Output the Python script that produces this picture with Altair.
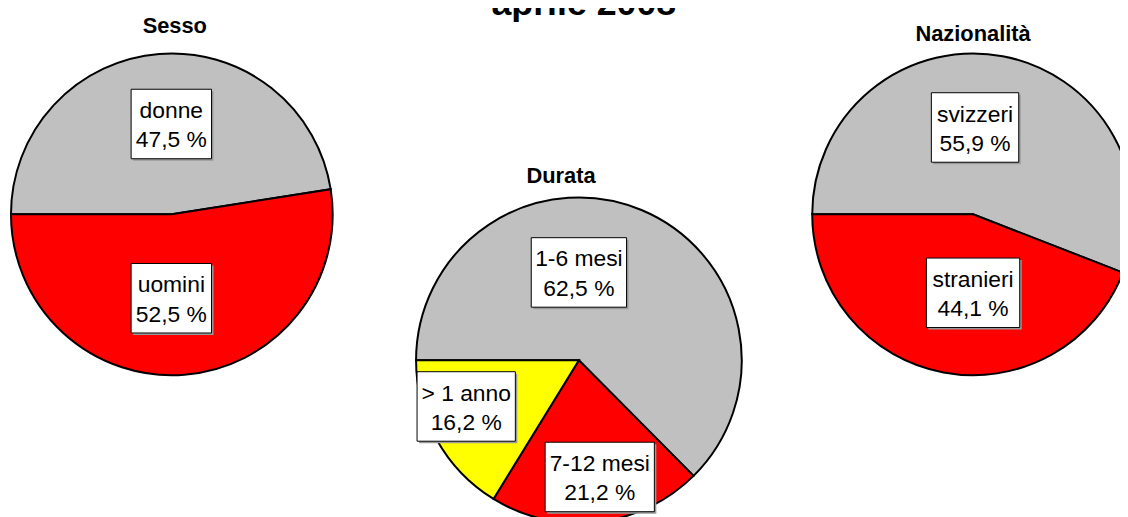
import math
import altair as alt
import pandas as pd

# ---- data ----
main_title = ["aprile 2008"]
pie_titles = ["Sesso", "Durata", "Nazionalità"]

sesso_cat = ["donne", "uomini"]
sesso_val = [47.5, 52.5]
sesso_col = ["#C0C0C0", "#FF0000"]

durata_cat = ["1-6 mesi", "7-12 mesi", "> 1 anno"]
durata_val = [62.5, 21.2, 16.2]
durata_col = ["#C0C0C0", "#FF0000", "#FFFF00"]

naz_cat = ["svizzeri", "stranieri"]
naz_val = [55.9, 44.1]
naz_col = ["#C0C0C0", "#FF0000"]

# ---- layout (pixels in the drawing) ----
W, H = 1120, 509
pies = [
    dict(cx=165, cy=206, r=162, tx=168, ty=23),   # Sesso
    dict(cx=575, cy=353, r=164, tx=557, ty=174),  # Durata
    dict(cx=972, cy=206, r=162, tx=972, ty=31),   # Nazionalità
]
# label boxes: centre x, centre y, width
label_boxes = [
    [(164.5, 115, 81), (164.5, 290.5, 81)],
    [(575, 264.5, 96), (596, 470.5, 110), (461.5, 399.5, 99)],
    [(974, 118.5, 88), (972, 285, 94)],
]
BOX_H = 70
FONT = "Liberation Sans"

start = 1.5 * math.pi


def fmt(v):
    return f"{v:.1f} %".replace(".", ",")


def pie_layers(cats, vals, cols, geo, boxes):
    df = pd.DataFrame({"cat": cats, "val": vals, "col": cols, "ord": list(range(len(cats)))})
    arc = alt.Chart(df).mark_arc(outerRadius=geo["r"], stroke="black", strokeWidth=2).encode(
        theta=alt.Theta("val:Q", stack=True, scale=alt.Scale(range=[start, start + 2 * math.pi])),
        color=alt.Color("col:N", scale=None),
        order=alt.Order("ord:Q"),
        x=alt.value(geo["cx"]),
        y=alt.value(geo["cy"]),
    )
    lab = pd.DataFrame({
        "txt": [f"{c}\n{fmt(v)}" for c, v in zip(cats, vals)],
        "x1": [b[0] - b[2] / 2 for b in boxes],
        "x2": [b[0] + b[2] / 2 for b in boxes],
        "y1": [b[1] - BOX_H / 2 for b in boxes],
        "y2": [b[1] + BOX_H / 2 for b in boxes],
        "sx1": [b[0] - b[2] / 2 + 2 for b in boxes],
        "sx2": [b[0] + b[2] / 2 + 2 for b in boxes],
        "sy1": [b[1] - BOX_H / 2 + 2 for b in boxes],
        "sy2": [b[1] + BOX_H / 2 + 2 for b in boxes],
        "tx": [b[0] for b in boxes],
        "ty": [b[1] - 6 for b in boxes],
    })
    shadow = alt.Chart(lab).mark_rect(fill="#9a9a9a").encode(
        x=alt.X("sx1:Q", scale=None), x2="sx2:Q",
        y=alt.Y("sy1:Q", scale=None), y2="sy2:Q",
    )
    box = alt.Chart(lab).mark_rect(fill="white", stroke="black", strokeWidth=1).encode(
        x=alt.X("x1:Q", scale=None), x2="x2:Q",
        y=alt.Y("y1:Q", scale=None), y2="y2:Q",
    )
    text = alt.Chart(lab).mark_text(
        font=FONT, fontSize=23, align="center", baseline="alphabetic",
        lineBreak="\n", lineHeight=29.5, color="black",
    ).encode(
        x=alt.X("tx:Q", scale=None), y=alt.Y("ty:Q", scale=None), text="txt:N",
    )
    return [arc, shadow, box, text]


def title_layer(txt, x, y, size):
    return alt.Chart(pd.DataFrame({"t": [txt]})).mark_text(
        font=FONT, fontSize=size, fontWeight="bold", align="center",
        baseline="alphabetic", color="black",
    ).encode(text="t:N", x=alt.value(x), y=alt.value(y))


layers = []
layers += pie_layers(sesso_cat, sesso_val, sesso_col, pies[0], label_boxes[0])
layers += pie_layers(durata_cat, durata_val, durata_col, pies[1], label_boxes[1])
layers += pie_layers(naz_cat, naz_val, naz_col, pies[2], label_boxes[2])
for name, geo in zip(pie_titles, pies):
    layers.append(title_layer(name, geo["tx"], geo["ty"], 22))
layers.append(title_layer(main_title[0], 580, 5, 36))

chart = alt.layer(*layers).resolve_scale(theta="independent").properties(
    width=W, height=H, padding=0, autosize=alt.AutoSizeParams(type="none"),
    background="white",
).configure_view(stroke=None)

chart.save("out.html", embed_options={"renderer": "svg", "actions": False})
